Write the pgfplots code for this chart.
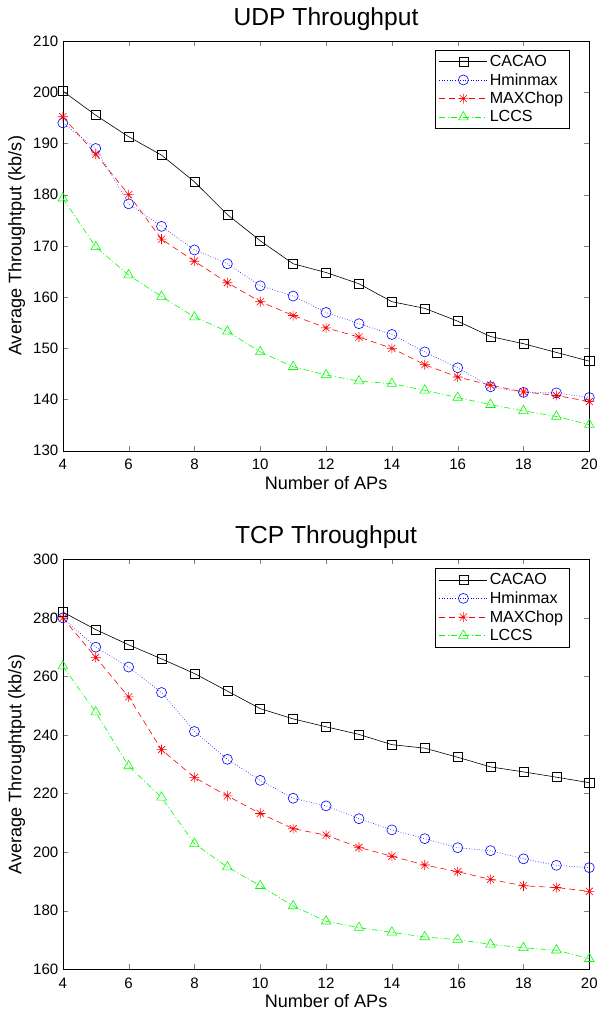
\documentclass[border={5pt 3pt 1pt 4pt}]{standalone}
\usepackage{fontspec}
\setmainfont{Liberation Sans}
\usepackage{pgfplots}
\pgfplotsset{compat=1.18}

\definecolor{mgreen}{RGB}{0,255,0}
\definecolor{mblue}{RGB}{0,0,255}
\definecolor{mred}{RGB}{255,0,0}

% MATLAB-like '*' marker: a plus and a cross together
\pgfdeclareplotmark{mast}{%
  \pgfpathmoveto{\pgfpoint{-\pgfplotmarksize}{0pt}}\pgfpathlineto{\pgfpoint{\pgfplotmarksize}{0pt}}%
  \pgfpathmoveto{\pgfpoint{0pt}{-\pgfplotmarksize}}\pgfpathlineto{\pgfpoint{0pt}{\pgfplotmarksize}}%
  \pgfpathmoveto{\pgfpoint{-0.707\pgfplotmarksize}{-0.707\pgfplotmarksize}}\pgfpathlineto{\pgfpoint{0.707\pgfplotmarksize}{0.707\pgfplotmarksize}}%
  \pgfpathmoveto{\pgfpoint{-0.707\pgfplotmarksize}{0.707\pgfplotmarksize}}\pgfpathlineto{\pgfpoint{0.707\pgfplotmarksize}{-0.707\pgfplotmarksize}}%
  \pgfusepathqstroke}

\pgfplotsset{
  mstyle/.style={
    scale only axis, width=524pt, height=408pt,
    xmin=4, xmax=20, xtick={4,6,...,20},
    tick align=inside, major tick length=5pt,
    xtick pos=both, ytick pos=both,
    /pgf/number format/assume math mode=true,
    tick label style={font=\fontsize{15}{17}\selectfont},
    xticklabel style={yshift=-5pt},
    yticklabel style={xshift=-1pt},
    label style={font=\fontsize{18}{20}\selectfont},
    title style={font=\fontsize{24.5}{27}\selectfont, yshift=1pt},
    xlabel={Number of APs},
    ylabel={Average Throughtput (kb/s)},
    xlabel style={yshift=1pt},
    ylabel style={yshift=1pt},
    legend style={font=\fontsize{16}{18}\selectfont, at={(0.962,0.978)}, anchor=north east,
      draw=black, row sep=1.5pt, inner xsep=4pt, inner ysep=3pt},
    legend cell align=left,
    legend image code/.code={\draw[mark repeat=2, mark phase=2, ##1] plot coordinates {(0pt,0pt) (24pt,0pt) (48pt,0pt)};},
    every axis plot/.append style={line width=0.6pt},
  },
  cacao/.style={black, solid, mark=square, mark size=4.5pt, mark options={solid}},
  hmin/.style={mblue, dotted, mark=o, mark size=5pt, mark options={solid}},
  maxc/.style={mred, dashed, dash pattern=on 6pt off 4pt, mark=mast, mark size=5pt, mark options={solid}},
  lccs/.style={mgreen, dash pattern=on 6pt off 2.5pt on 1pt off 2.5pt, mark=triangle, mark size=5.5pt, mark options={solid}},
}

\begin{document}
\begin{tikzpicture}
\begin{axis}[mstyle, title={UDP Throughput}, ymin=130, ymax=210, ytick={130,140,...,210}]
\addplot[cacao] coordinates {(4,200.2)(5,195.5)(6,191.3)(7,187.7)(8,182.5)(9,176.1)(10,171.0)(11,166.5)(12,164.8)(13,162.6)(14,159.1)(15,157.8)(16,155.3)(17,152.3)(18,150.9)(19,149.2)(20,147.5)};
\addlegendentry{CACAO}
\addplot[hmin] coordinates {(4,194.0)(5,189.0)(6,178.2)(7,173.8)(8,169.2)(9,166.5)(10,162.2)(11,160.2)(12,157.0)(13,154.8)(14,152.7)(15,149.3)(16,146.2)(17,142.5)(18,141.4)(19,141.3)(20,140.4)};
\addlegendentry{Hminmax}
\addplot[maxc] coordinates {(4,195.2)(5,187.9)(6,180.0)(7,171.3)(8,167.0)(9,162.8)(10,159.1)(11,156.4)(12,154.0)(13,152.2)(14,150.0)(15,146.8)(16,144.4)(17,142.8)(18,141.5)(19,140.8)(20,139.6)};
\addlegendentry{MAXChop}
\addplot[lccs] coordinates {(4,179.3)(5,169.8)(6,164.3)(7,160.1)(8,156.1)(9,153.3)(10,149.3)(11,146.4)(12,144.8)(13,143.6)(14,143.1)(15,141.8)(16,140.4)(17,139.0)(18,137.8)(19,136.7)(20,135.1)};
\addlegendentry{LCCS}
\end{axis}

\begin{axis}[mstyle, at={(0pt,-516pt)}, title={TCP Throughput}, ymin=160, ymax=300, ytick={160,180,...,300}]
\addplot[cacao] coordinates {(4,282.0)(5,276.0)(6,270.8)(7,266.0)(8,261.0)(9,255.0)(10,249.0)(11,245.5)(12,242.8)(13,240.2)(14,236.7)(15,235.5)(16,232.4)(17,229.1)(18,227.4)(19,225.6)(20,223.7)};
\addlegendentry{CACAO}
\addplot[hmin] coordinates {(4,280.0)(5,270.0)(6,263.2)(7,254.5)(8,241.2)(9,231.7)(10,224.5)(11,218.4)(12,215.8)(13,211.4)(14,207.6)(15,204.6)(16,201.5)(17,200.5)(18,197.7)(19,195.5)(20,194.7)};
\addlegendentry{Hminmax}
\addplot[maxc] coordinates {(4,280.0)(5,266.5)(6,253.0)(7,235.0)(8,225.5)(9,219.2)(10,213.2)(11,208.0)(12,205.8)(13,201.6)(14,198.6)(15,195.6)(16,193.3)(17,190.7)(18,188.5)(19,187.9)(20,186.6)};
\addlegendentry{MAXChop}
\addplot[lccs] coordinates {(4,263.5)(5,247.8)(6,229.4)(7,218.7)(8,202.9)(9,194.9)(10,188.5)(11,181.6)(12,176.4)(13,174.2)(14,172.6)(15,171.0)(16,170.1)(17,168.5)(18,167.3)(19,166.5)(20,163.6)};
\addlegendentry{LCCS}
\end{axis}
\end{tikzpicture}
\end{document}
